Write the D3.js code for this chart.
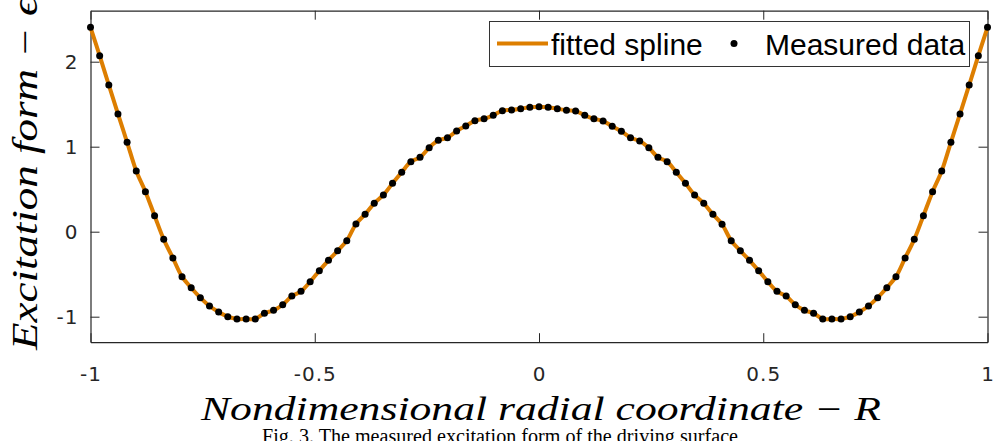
<!DOCTYPE html>
<html><head><meta charset="utf-8">
<script src="https://cdn.jsdelivr.net/npm/d3@7"></script>
<style>body{margin:0;background:#fff;overflow:hidden}svg{display:block}</style>
</head><body>
<script>
// ---- data ----
const nPoints = 99; // R sampled uniformly over [-1, 1]
const measured = [
 2.405, 2.071, 1.726, 1.385, 1.052, 0.714, 0.471, 0.188, -0.090, -0.309,
 -0.529, -0.659, -0.776, -0.874, -0.945, -1.000, -1.027, -1.027, -1.027, -0.960,
 -0.925, -0.859, -0.757, -0.702, -0.588, -0.459, -0.337, -0.224, -0.106, 0.090,
 0.205, 0.334, 0.432, 0.569, 0.699, 0.824, 0.875, 0.988, 1.075, 1.106,
 1.185, 1.244, 1.306, 1.329, 1.369, 1.424, 1.432, 1.447, 1.464, 1.471,
 1.464, 1.447, 1.428, 1.420, 1.369, 1.329, 1.302, 1.240, 1.181, 1.106,
 1.067, 0.988, 0.875, 0.824, 0.699, 0.569, 0.432, 0.334, 0.205, 0.087,
 -0.106, -0.224, -0.337, -0.459, -0.588, -0.702, -0.757, -0.859, -0.925, -0.960,
 -1.027, -1.027, -1.027, -1.000, -0.945, -0.874, -0.776, -0.659, -0.529, -0.309,
 -0.090, 0.188, 0.471, 0.714, 1.052, 1.385, 1.726, 2.071, 2.405
];
const xTicks = [-1, -0.5, 0, 0.5, 1];
const xTickLabels = ["-1", "-0.5", "0", "0.5", "1"];
const yTicks = [-1, 0, 1, 2];
const yTickLabels = ["-1", "0", "1", "2"];
const xDomain = [-1, 1];
const yDomain = [-1.3, 2.6];
const legendLabels = ["fitted spline", "Measured data"];
const xLabel = "Nondimensional radial coordinate \u2212 R";
const yLabel = "Excitation form \u2212 \u03F5\u0302";
const caption = "Fig. 3. The measured excitation form of the driving surface";

// ---- layout ----
const W = 995, H = 441;
const L = 90.5, R = 987.5, T = 10.7, B = 342.2;
const axisCol = "#262626";
const orange = "#DD7E00";

const svg = d3.select("body").append("svg").attr("width", W).attr("height", H);

const x = d3.scaleLinear().domain(xDomain).range([L, R]);
const y = d3.scaleLinear().domain(yDomain).range([B, T]);

const rVals = d3.range(nPoints).map(i => xDomain[0] + (xDomain[1] - xDomain[0]) * i / (nPoints - 1));
const pts = rVals.map((r, i) => ({r, v: measured[i]}));

const tickFont = "'DejaVu Sans', sans-serif";
// axes
const gB = svg.append("g").attr("transform", `translate(0,${y(yDomain[0])})`)
  .call(d3.axisBottom(x).tickValues(xTicks).tickFormat((d, i) => xTickLabels[i]).tickSizeInner(-9).tickSizeOuter(0).tickPadding(25));
const gT = svg.append("g").attr("transform", `translate(0,${y(yDomain[1])})`)
  .call(d3.axisTop(x).tickValues(xTicks).tickFormat("").tickSizeInner(-9).tickSizeOuter(0));
const gL = svg.append("g").attr("transform", `translate(${x(xDomain[0])},0)`)
  .call(d3.axisLeft(y).tickValues(yTicks).tickFormat((d, i) => yTickLabels[i]).tickSizeInner(-9).tickSizeOuter(0).tickPadding(12));
const gR = svg.append("g").attr("transform", `translate(${x(xDomain[1])},0)`)
  .call(d3.axisRight(y).tickValues(yTicks).tickFormat("").tickSizeInner(-9).tickSizeOuter(0));
[gB, gT, gL, gR].forEach(g => {
  g.select(".domain").attr("stroke", axisCol).attr("stroke-width", 1.2);
  g.selectAll(".tick line").attr("stroke", axisCol).attr("stroke-width", 1);
  g.selectAll(".tick text").attr("fill", "#262626").style("font-family", tickFont)
    .style("font-size", "20px").style("letter-spacing", "1px");
});

// fitted spline through the data
const line = d3.line().x(d => x(d.r)).y(d => y(d.v)).curve(d3.curveCatmullRom);
svg.append("path").datum(pts)
  .attr("fill", "none").attr("stroke", orange).attr("stroke-width", 4).attr("d", line);

// measured points
svg.append("g").selectAll("circle").data(pts).join("circle")
  .attr("cx", d => x(d.r)).attr("cy", d => y(d.v)).attr("r", 3.5).attr("fill", "#000");

// legend
const lg = svg.append("g");
lg.append("rect").attr("x", 489.5).attr("y", 21.5).attr("width", 480).attr("height", 45)
  .attr("fill", "#fff").attr("stroke", "#333").attr("stroke-width", 1);
lg.append("line").attr("x1", 497).attr("x2", 548).attr("y1", 43.5).attr("y2", 43.5)
  .attr("stroke", orange).attr("stroke-width", 4);
lg.append("text").attr("x", 551).attr("y", 55).text(legendLabels[0])
  .style("font-family", "'Liberation Sans', Arial, sans-serif").style("font-size", "30px").attr("fill", "#000");
lg.append("circle").attr("cx", 734).attr("cy", 43.5).attr("r", 3.5).attr("fill", "#000");
lg.append("text").attr("x", 765).attr("y", 55).text(legendLabels[1])
  .style("font-family", "'Liberation Sans', Arial, sans-serif").style("font-size", "30px").attr("fill", "#000");

// axis labels
const labFont = "'Liberation Serif', 'Times New Roman', serif";
svg.append("text").attr("x", 541).attr("y", 420).attr("text-anchor", "middle")
  .attr("textLength", 680).attr("lengthAdjust", "spacingAndGlyphs")
  .style("font-family", labFont).style("font-style", "italic").style("font-size", "33px")
  .attr("fill", "#000").text(xLabel);
svg.append("text").attr("transform", "translate(37,350) rotate(-90)").attr("text-anchor", "start")
  .attr("textLength", 352).attr("lengthAdjust", "spacingAndGlyphs")
  .style("font-family", labFont).style("font-style", "italic").style("font-size", "35px")
  .attr("fill", "#000").text(yLabel);

// caption (partly cut off at the bottom, as in the source figure)
svg.append("text").attr("x", 262).attr("y", 443)
  .attr("textLength", 476).attr("lengthAdjust", "spacingAndGlyphs")
  .style("font-family", "'Liberation Serif', 'Times New Roman', serif").style("font-size", "20px")
  .attr("fill", "#000").text(caption);
</script>
</body></html>
